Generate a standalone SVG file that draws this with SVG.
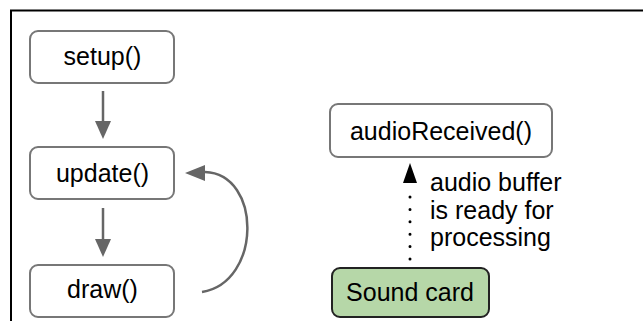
<svg xmlns="http://www.w3.org/2000/svg" width="643" height="321" viewBox="0 0 643 321">
<style>
.box{fill:#fff;stroke:#777;stroke-width:2}
.lbl{font-family:"Liberation Sans",Arial,sans-serif;font-size:25px;fill:#000;text-anchor:middle}
.note{font-family:"Liberation Sans",Arial,sans-serif;font-size:25px;fill:#000}
.arr{fill:none;stroke:#666;stroke-width:2.5}
</style>
<rect width="643" height="321" fill="#fff"/>
<path d="M11,321 V10.5 H643" fill="none" stroke="#000" stroke-width="2"/>
<g id="connectors">
<line x1="103" y1="91" x2="103" y2="124" stroke="#666" stroke-width="2.5"/>
<polygon points="95,121 111,121 103,139" fill="#666"/>
<line x1="103" y1="208" x2="103" y2="241" stroke="#666" stroke-width="2.5"/>
<polygon points="95,239 111,239 103,257" fill="#666"/>
<path class="arr" d="M202,292 C262,282 262,174 205,172"/>
<polygon points="185,173 205,165 205,181" fill="#666"/>
<line x1="410" y1="259" x2="410" y2="190" stroke="#000" stroke-width="3" stroke-linecap="round" stroke-dasharray="0 12.4"/>
<polygon points="403,183 417,183 410,163" fill="#000"/>
</g>
<g id="setup"><rect class="box" x="30" y="31" width="144" height="52" rx="8"/><text class="lbl" x="102.5" y="65">setup()</text></g>
<g id="update"><rect class="box" x="30" y="147" width="144" height="52" rx="8"/><text class="lbl" x="102.5" y="182">update()</text></g>
<g id="draw"><rect class="box" x="30" y="265" width="144" height="52" rx="8"/><text class="lbl" x="102.5" y="298">draw()</text></g>
<g id="audioReceived"><rect class="box" x="330" y="104" width="222" height="53" rx="8"/><text class="lbl" x="441" y="140">audioReceived()</text></g>
<g id="soundcard"><rect x="332" y="268" width="157" height="49" rx="8" fill="#b6d7a8" stroke="#222" stroke-width="2"/><text class="lbl" x="410" y="301">Sound card</text></g>
<g id="note">
<text class="note" x="430" y="191">audio buffer</text>
<text class="note" x="430" y="219">is ready for</text>
<text class="note" x="430" y="246">processing</text>
</g>
</svg>
